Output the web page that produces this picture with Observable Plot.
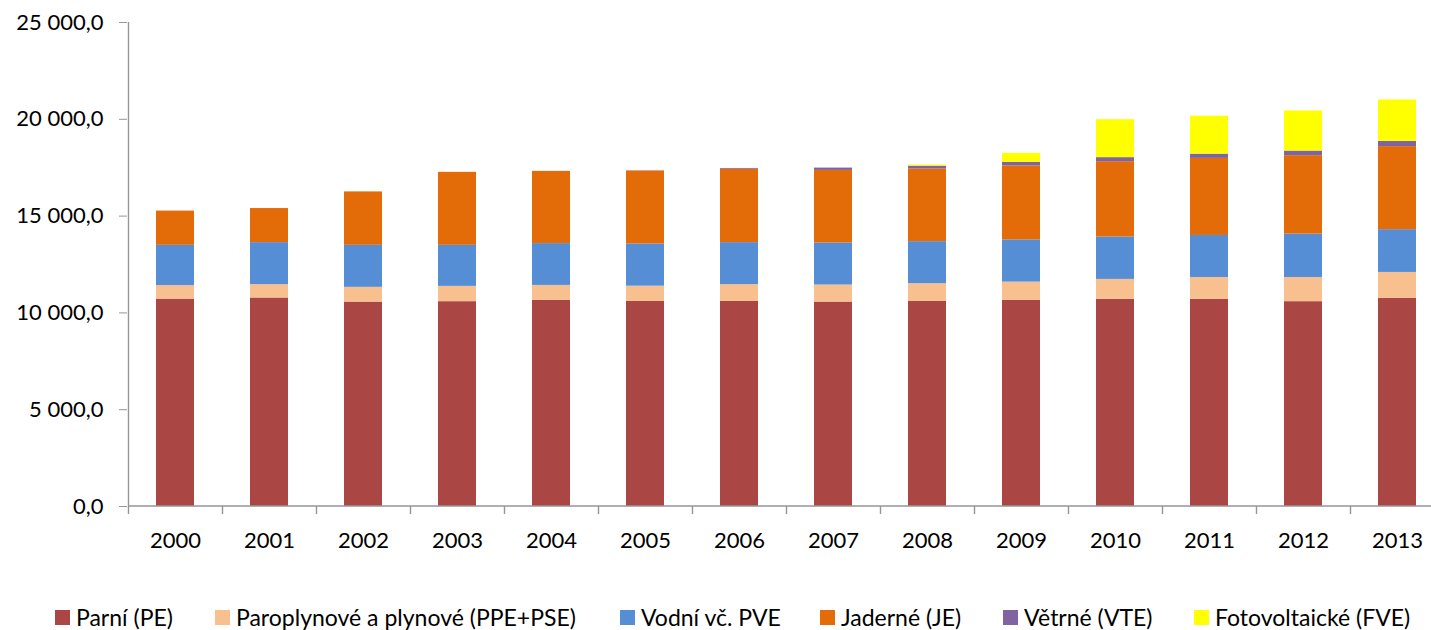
<!DOCTYPE html>
<html><head><meta charset="utf-8">
<script src="https://cdn.jsdelivr.net/npm/d3@7"></script>
<script src="https://cdn.jsdelivr.net/npm/@observablehq/plot@0.6"></script>
<style>
html,body{margin:0;padding:0;background:#fff;overflow:hidden;}
body{font-family:Lato,"Open Sans",sans-serif;width:1431px;height:630px;position:relative;}
#legend{position:absolute;top:605px;left:0;width:1431px;height:24px;font-size:23px;line-height:24px;color:#000;white-space:nowrap;}
#legend .item{position:absolute;top:0;display:flex;align-items:center;height:24px;}
#legend .sw{width:15px;height:15px;margin-right:6px;flex:none;}
</style></head><body>
<div id="chart"></div>
<div id="legend"></div>
<script>
const years = ["2000","2001","2002","2003","2004","2005","2006","2007","2008","2009","2010","2011","2012","2013"];
const seriesNames = ["Parní (PE)","Paroplynové a plynové (PPE+PSE)","Vodní vč. PVE","Jaderné (JE)","Větrné (VTE)","Fotovoltaické (FVE)"];
const seriesColors = ["#AA4643","#F9C08F","#558ED5","#E36C09","#8064A2","#FFFF00"];
const parni      = [10710,10770,10560,10580,10650,10590,10590,10560,10590,10650,10700,10700,10580,10750];
const paroplyn   = [700,690,760,790,770,790,870,880,920,940,1030,1130,1250,1340];
const vodni      = [2080,2170,2170,2120,2160,2180,2170,2170,2170,2180,2190,2170,2240,2210];
const jaderne    = [1770,1760,2760,3770,3730,3770,3790,3750,3750,3820,3890,3980,4050,4290];
const vetrne     = [0,0,0,0,0,10,40,120,150,190,210,220,240,270];
const fotovolt   = [0,0,0,0,0,0,0,0,60,460,1960,1960,2070,2140];
const yTicks = [0,5000,10000,15000,20000,25000];

const seriesValues = [parni,paroplyn,vodni,jaderne,vetrne,fotovolt];
const data = [];
seriesNames.forEach((s,si)=>years.forEach((y,yi)=>data.push({year:y,series:s,order:si,value:seriesValues[si][yi]})));

const fmt = d3.formatLocale({decimal:",",thousands:"\u00a0",grouping:[3],currency:["",""]}).format(",.1f");
const xRange = [127.5, 1444.5];
const gridColor = "#969696";
const legendLeft = [55,215,620,820,1003,1194];

function axisLines(index, scales, values, dims) {
  const g = d3.create("svg:g").attr("stroke", gridColor).attr("stroke-width", 1.4);
  const step = (xRange[1]-xRange[0]) / years.length;
  const y0 = scales.y(0), yTop = scales.y(25000);
  const xl = Math.round(scales.x(years[0]) - step*0.3) + 0.5;
  g.append("line").attr("x1", xl).attr("x2", xl).attr("y1", yTop).attr("y2", y0 + 8);
  years.forEach((yr,i)=>{
    const xb = Math.round(scales.x(yr) + step*0.7) + 0.5;
    g.append("line").attr("x1", xb).attr("x2", xb).attr("y1", y0).attr("y2", y0 + 8);
  });
  g.append("line").attr("x1", xl).attr("x2", 1431).attr("y1", y0).attr("y2", y0);
  return g.node();
}

const chart = Plot.plot({
  width: 1431,
  height: 580,
  marginTop: 22,
  marginBottom: 74,
  marginLeft: 127,
  marginRight: 0,
  style: {fontFamily: "Lato, 'Open Sans', sans-serif", fontSize: "22px", color: "#000", background: "#fff"},
  x: {domain: years, range: xRange, paddingInner: 0.6, paddingOuter: 0.3, label: null},
  y: {domain: [0, 25000], label: null},
  color: {domain: seriesNames, range: seriesColors},
  marks: [
    Plot.gridY(yTicks, {stroke: gridColor, strokeOpacity: 1, strokeWidth: 1.4, x1: 127, x2: 1431}),
    Plot.barY(data, {x: "year", y: "value", fill: "series", order: seriesNames}),
    axisLines,
    Plot.axisY(yTicks, {tickSize: 8, tickPadding: 16, tickFormat: fmt, stroke: gridColor, fill: "#000", fontSize: 22}),
    Plot.axisX({tickSize: 0, tickPadding: 26, fill: "#000", fontSize: 22})
  ]
});
document.getElementById("chart").appendChild(chart);

const legend = document.getElementById("legend");
seriesNames.forEach((s,i)=>{
  const it = document.createElement("div"); it.className = "item"; it.style.left = legendLeft[i] + "px";
  const sw = document.createElement("span"); sw.className = "sw"; sw.style.background = seriesColors[i];
  const tx = document.createElement("span"); tx.textContent = s;
  it.appendChild(sw); it.appendChild(tx); legend.appendChild(it);
});
</script>
</body></html>
